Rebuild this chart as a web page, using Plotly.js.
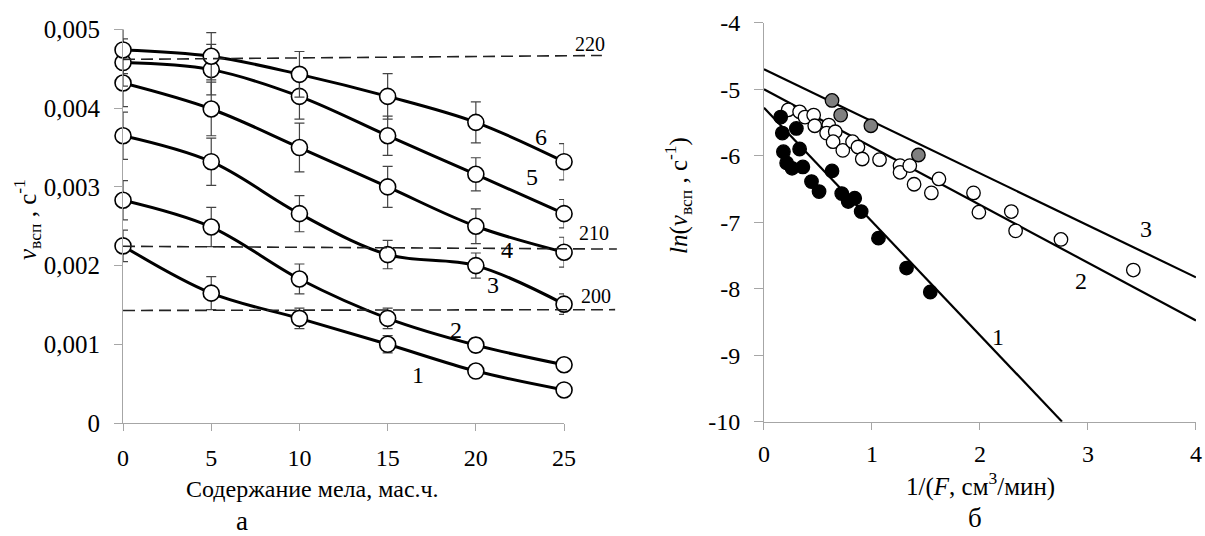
<!DOCTYPE html>
<html><head><meta charset="utf-8">
<script src="https://cdn.plot.ly/plotly-3.0.1.min.js"></script>
<style>html,body{margin:0;padding:0;background:#fff}#chart{width:1205px;height:536px}</style>
</head><body><div id="chart"></div>
<script>
// ---- panel а : foaming rate vs chalk content ----
const chalk = [0, 5, 10, 15, 20, 25];
const curve1 = [0.00225, 0.00165, 0.00133, 0.00100, 0.00066, 0.00042];
const curve2 = [0.00283, 0.00249, 0.00183, 0.00133, 0.00099, 0.00074];
const curve3 = [0.00365, 0.00332, 0.00266, 0.00214, 0.00200, 0.00151];
const curve4 = [0.00432, 0.00399, 0.00350, 0.00300, 0.00250, 0.00217];
const curve5 = [0.00458, 0.00449, 0.00415, 0.00365, 0.00316, 0.00266];
const curve6 = [0.00474, 0.00466, 0.00443, 0.00415, 0.00382, 0.00332];
const err1 = [0.00020, 0.00021, 0.00013, 0.00011, 0, 0];
const err2 = [0.00025, 0.00025, 0.00019, 0.00013, 0.00009, 0];
const err3 = [0.00030, 0.00030, 0.00023, 0.00018, 0.00016, 0.00013];
const err4 = [0.00030, 0.00034, 0.00031, 0.00026, 0.00022, 0.00019];
const err5 = [0.00030, 0.00032, 0.00029, 0.00025, 0.00021, 0.00018];
const err6 = [0.00030, 0.00030, 0.00029, 0.00029, 0.00026, 0.00023];
// isotherm dashed lines (220, 210, 200)
const iso220X = [0, 27.15], iso220Y = [0.00462, 0.00467];
const iso210X = [0, 28.0],  iso210Y = [0.002245, 0.00221];
const iso200X = [0, 27.9],  iso200Y = [0.00143, 0.00144];
const leftXTicks = [0, 5, 10, 15, 20, 25];
const leftYTicks = [0, 0.001, 0.002, 0.003, 0.004, 0.005];
const leftYTickText = ['0', '0,001', '0,002', '0,003', '0,004', '0,005'];

// ---- panel б : ln(v) vs 1/F ----
const blackX = [0.155, 0.17, 0.30, 0.18, 0.33, 0.21, 0.26, 0.36, 0.44, 0.51, 0.63, 0.72, 0.78, 0.84, 0.90, 1.06, 1.32, 1.54];
const blackY = [-5.42, -5.66, -5.59, -5.94, -5.90, -6.11, -6.19, -6.17, -6.39, -6.54, -6.23, -6.57, -6.69, -6.64, -6.84, -7.24, -7.69, -8.05];
const openX = [0.225, 0.33, 0.38, 0.46, 0.47, 0.60, 0.58, 0.66, 0.64, 0.73, 0.82, 0.87, 0.91, 1.07, 1.26, 1.26, 1.35, 1.39, 1.55, 1.62, 1.94, 1.99, 2.29, 2.33, 2.75, 3.42];
const openY = [-5.31, -5.34, -5.42, -5.39, -5.55, -5.54, -5.66, -5.64, -5.79, -5.92, -5.79, -5.87, -6.05, -6.06, -6.15, -6.25, -6.15, -6.43, -6.56, -6.35, -6.56, -6.85, -6.84, -7.13, -7.26, -7.72];
const grayX = [0.63, 0.71, 0.99, 1.43];
const grayY = [-5.17, -5.39, -5.55, -5.99];
const fit1X = [0, 2.76], fit1Y = [-5.28, -10];
const fit2X = [0, 4],    fit2Y = [-5.0, -8.48];
const fit3X = [0, 4],    fit3Y = [-4.70, -7.83];
const rightXTicks = [0, 1, 2, 3, 4];
const rightYTicks = [-10, -9, -8, -7, -6, -5, -4];
const rightYTickText = ['-10', '-9', '-8', '-7', '-6', '-5', '-4'];

const FONT = 'Liberation Serif';
const AX = '#a6a6a6';

function curve(y, e) {
  return {
    x: chalk, y: y, type: 'scatter', mode: 'lines+markers', xaxis: 'x', yaxis: 'y',
    cliponaxis: false,
    line: {color: '#000', width: 3, shape: 'spline', smoothing: 1},
    marker: {symbol: 'circle', size: 16, color: '#fff', line: {color: '#000', width: 1.6}},
    error_y: {type: 'data', array: e, visible: true, color: '#444', thickness: 1.2, width: 5},
    showlegend: false, hoverinfo: 'skip'
  };
}
function dashed(x, y) {
  return {x: x, y: y, type: 'scatter', mode: 'lines', xaxis: 'x3', yaxis: 'y3', cliponaxis: false,
    line: {color: '#222', width: 1.6, dash: '12px,6px'}, showlegend: false, hoverinfo: 'skip'};
}
function fit(x, y) {
  return {x: x, y: y, type: 'scatter', mode: 'lines', xaxis: 'x2', yaxis: 'y2', cliponaxis: false,
    line: {color: '#000', width: 2.2}, showlegend: false, hoverinfo: 'skip'};
}
function pts(x, y, fill) {
  return {x: x, y: y, type: 'scatter', mode: 'markers', xaxis: 'x2', yaxis: 'y2', cliponaxis: false,
    marker: {symbol: 'circle', size: 13.5, color: fill, line: {color: '#000', width: 1.3}},
    showlegend: false, hoverinfo: 'skip'};
}

const data = [
  dashed(iso220X, iso220Y), dashed(iso210X, iso210Y), dashed(iso200X, iso200Y),
  curve(curve1, err1), curve(curve2, err2), curve(curve3, err3),
  curve(curve4, err4), curve(curve5, err5), curve(curve6, err6),
  fit(fit1X, fit1Y), fit(fit2X, fit2Y), fit(fit3X, fit3Y),
  pts(openX, openY, '#ffffff'), pts(blackX, blackY, '#000000'), pts(grayX, grayY, '#808080')
];

const tf = (s) => ({family: FONT, size: s, color: '#000'});
const ann = (x, y, text, xref, yref, size, extra) => Object.assign({
  x: x, y: y, xref: xref, yref: yref, text: text, showarrow: false,
  font: {family: FONT, size: size, color: '#000'}, xanchor: 'center', yanchor: 'middle'
}, extra || {});

const layout = {
  width: 1205, height: 536,
  margin: {l: 0, r: 0, t: 0, b: 0},
  paper_bgcolor: '#fff', plot_bgcolor: 'rgba(0,0,0,0)',
  font: {family: FONT, color: '#000'},
  showlegend: false,
  xaxis: {domain: [0.1021, 0.4681], range: [0, 25], anchor: 'y',
    showline: true, linecolor: AX, linewidth: 1, showgrid: false, zeroline: false,
    ticks: 'outside', ticklen: 7, tickcolor: AX, tickvals: leftXTicks,
    tickfont: tf(24), ticklabelstandoff: 6},
  yaxis: {domain: [0.2108, 0.945], range: [0, 0.005], anchor: 'x',
    showline: true, linecolor: AX, linewidth: 1, showgrid: false, zeroline: false,
    ticks: 'outside', ticklen: 8, tickcolor: AX, tickvals: leftYTicks, ticktext: leftYTickText,
    tickfont: tf(25), ticklabelstandoff: 9},
  xaxis3: {domain: [0.1021, 0.5134], range: [0, 28.1], anchor: 'y3', visible: false},
  yaxis3: {domain: [0.2108, 0.945], range: [0, 0.005], anchor: 'x3', visible: false},
  xaxis2: {domain: [0.634, 0.9925], range: [0, 4], anchor: 'y2',
    showline: true, linecolor: AX, linewidth: 1, showgrid: false, zeroline: false,
    ticks: 'outside', ticklen: 7, tickcolor: AX, tickvals: rightXTicks,
    tickfont: tf(24), ticklabelstandoff: 4},
  yaxis2: {domain: [0.2133, 0.9577], range: [-10, -4], anchor: 'x2',
    showline: true, linecolor: AX, linewidth: 1, showgrid: false, zeroline: false,
    ticks: 'outside', ticklen: 9, tickcolor: AX, tickvals: rightYTicks, ticktext: rightYTickText,
    tickfont: tf(24), ticklabelstandoff: 9},
  annotations: [
    // curve numbers, panel а
    ann(23.7, 0.00363, '6', 'x', 'y', 24),
    ann(23.2, 0.00313, '5', 'x', 'y', 24),
    ann(21.75, 0.00220, '4', 'x', 'y', 24),
    ann(20.96, 0.00175, '3', 'x', 'y', 24),
    ann(18.9, 0.00118, '2', 'x', 'y', 24),
    ann(16.74, 0.00061, '1', 'x', 'y', 24),
    ann(26.5, 0.00482, '220', 'x3', 'y3', 20),
    ann(26.7, 0.00241, '210', 'x3', 'y3', 20),
    ann(26.8, 0.00162, '200', 'x3', 'y3', 20),
    // line numbers, panel б
    ann(2.17, -8.72, '1', 'x2', 'y2', 24),
    ann(2.94, -7.89, '2', 'x2', 'y2', 24),
    ann(3.54, -7.11, '3', 'x2', 'y2', 24),
    // axis titles
    ann(27 / 1205, 1 - 220 / 536, '<i>v</i><sub>всп</sub> , с<sup>-1</sup>', 'paper', 'paper', 25, {textangle: -90}),
    ann(312 / 1205, 1 - 489 / 536, 'Содержание мела, мас.ч.', 'paper', 'paper', 24),
    ann(678 / 1205, 1 - 196 / 536, '<i>ln</i>(<i>v</i><sub>всп</sub> , с<sup>-1</sup>)', 'paper', 'paper', 25, {textangle: -90}),
    ann(980 / 1205, 1 - 484 / 536, '1/(<i>F</i>, см<sup>3</sup>/мин)', 'paper', 'paper', 25),
    ann(242 / 1205, 1 - 521 / 536, 'а', 'paper', 'paper', 27),
    ann(975 / 1205, 1 - 518 / 536, 'б', 'paper', 'paper', 27)
  ]
};

Plotly.newPlot('chart', data, layout, {staticPlot: true, displayModeBar: false});
</script>
</body></html>
